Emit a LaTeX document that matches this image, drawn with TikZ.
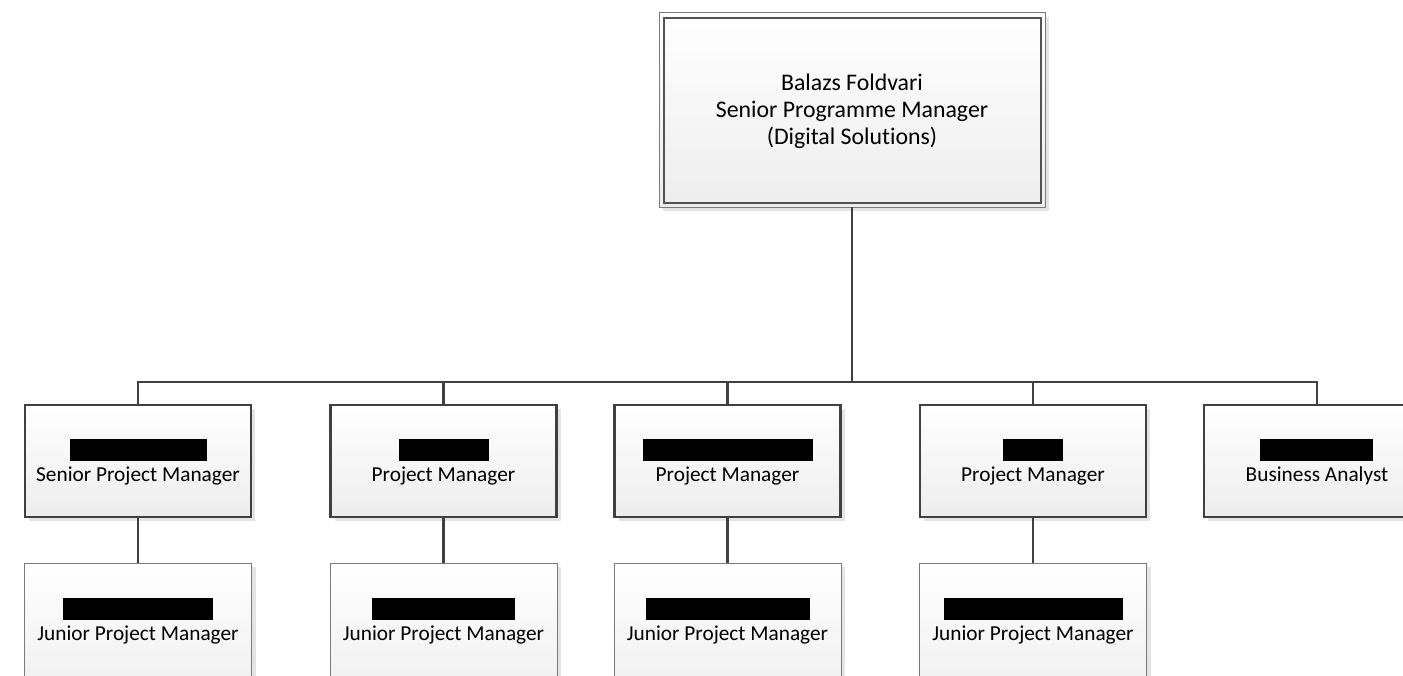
\documentclass[tikz,border=0pt]{standalone}
\usepackage{fontspec}
\setmainfont{Carlito}[Ligatures=NoCommon]
\usetikzlibrary{shadows}
\definecolor{linegray}{HTML}{404040}
\definecolor{thingray}{HTML}{7A7A7A}
\definecolor{fillbot}{HTML}{EDEDED}
\definecolor{shadowgray}{HTML}{E4E4E4}
\begin{document}
\begin{tikzpicture}[x=1bp,y=-1bp,
  boxfill/.style={top color=white,bottom color=fillbot,
    drop shadow={shadow xshift=4bp,shadow yshift=-4bp,fill=shadowgray,opacity=1}},
  topbox/.style={boxfill,draw=thingray,line width=1bp,rectangle,inner sep=0pt,outer sep=0pt,
    minimum width=386bp,minimum height=194bp},
  midbox/.style={boxfill,draw=linegray,line width=2.5bp,rectangle,inner sep=0pt,outer sep=0pt,
    minimum width=226bp,minimum height=112bp},
  lowbox/.style={boxfill,draw=thingray,line width=1bp,rectangle,inner sep=0pt,outer sep=0pt,
    minimum width=227bp,minimum height=150bp},
  bar/.style={fill=black,draw=none,rectangle,inner sep=0pt,outer sep=0pt,minimum height=22bp},
  role/.style={inner sep=0pt,font=\fontsize{21.3bp}{25bp}\selectfont},
  conn/.style={draw=linegray,line width=2.5bp}]
\useasboundingbox (0,0) rectangle (1403,676);

% top box
\node[topbox] (top) at (852,110) {};
\draw[draw=linegray!90,line width=1.3bp] ([shift={(5,5)}]top.north west) rectangle ([shift={(-4,-4)}]top.south east);
\node[align=center,inner sep=0pt,font=\fontsize{23.8bp}{26.8bp}\selectfont] (toptext) at (852,111)
  {Balazs Foldvari\\Senior Programme Manager\\(Digital Solutions)};

% middle row
\node[midbox] (m1) at (138,461) {};
\node[midbox] (m2) at (443.5,461) {};
\node[midbox] (m3) at (727.5,461) {};
\node[midbox] (m4) at (1033,461) {};
\node[midbox] (m5) at (1317,461) {};

\node[bar,minimum width=137bp] (m1bar) at (138.5,450) {};
\node[bar,minimum width=90bp] (m2bar) at (444,450) {};
\node[bar,minimum width=170bp] (m3bar) at (728,450) {};
\node[bar,minimum width=60bp] (m4bar) at (1033,450) {};
\node[bar,minimum width=113bp] (m5bar) at (1316.5,450) {};

\node[role] (m1t) at (138,476) {Senior Project Manager};
\node[role] (m2t) at (443.5,476) {Project Manager};
\node[role] (m3t) at (727.5,476) {Project Manager};
\node[role] (m4t) at (1033,476) {Project Manager};
\node[role] (m5t) at (1317,476) {Business Analyst};

% bottom row
\node[lowbox] (b1) at (138,638) {};
\node[lowbox] (b2) at (443.5,638) {};
\node[lowbox] (b3) at (727.5,638) {};
\node[lowbox] (b4) at (1033,638) {};

\node[bar,minimum width=150bp] (b1bar) at (138,609) {};
\node[bar,minimum width=143bp] (b2bar) at (443.5,609) {};
\node[bar,minimum width=164bp] (b3bar) at (728,609) {};
\node[bar,minimum width=179bp] (b4bar) at (1033.5,609) {};

\node[role] (b1t) at (138,634.5) {Junior Project Manager};
\node[role] (b2t) at (443.5,634.5) {Junior Project Manager};
\node[role] (b3t) at (727.5,634.5) {Junior Project Manager};
\node[role] (b4t) at (1033,634.5) {Junior Project Manager};

% connectors
\coordinate (bus) at (852,382);
\draw[conn] (top.south) -- (bus);
\draw[conn] (m1.north) |- (bus) -| (m5.north);
\draw[conn] (m2.north) -- (m2.north |- bus);
\draw[conn] (m3.north) -- (m3.north |- bus);
\draw[conn] (m4.north) -- (m4.north |- bus);
\draw[conn] (m1.south) -- (b1.north);
\draw[conn] (m2.south) -- (b2.north);
\draw[conn] (m3.south) -- (b3.north);
\draw[conn] (m4.south) -- (b4.north);
\end{tikzpicture}
\end{document}
